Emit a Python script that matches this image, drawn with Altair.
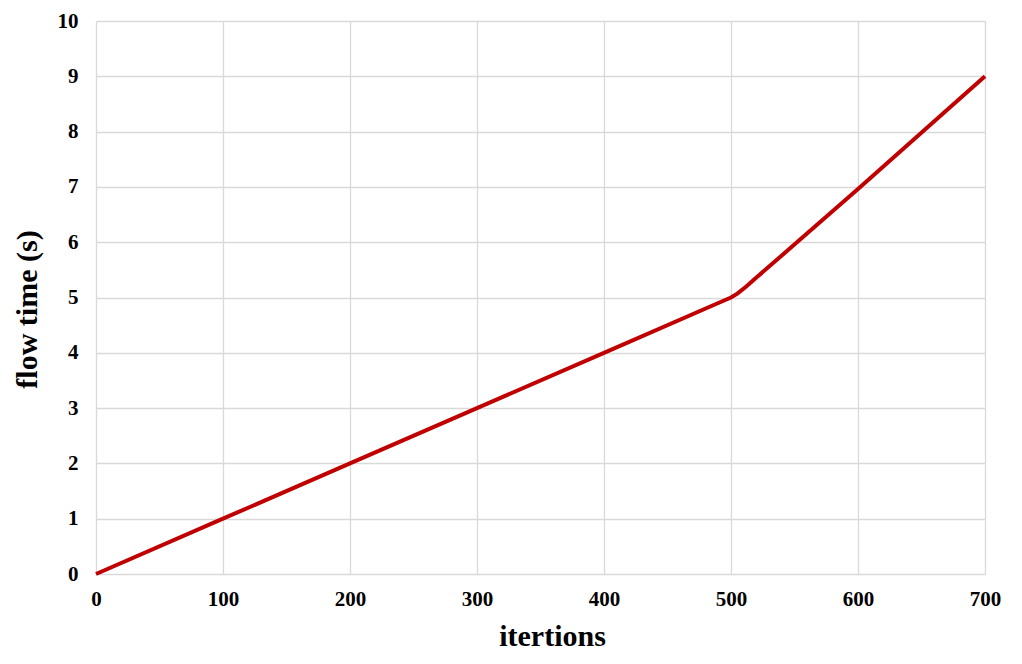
import altair as alt
import pandas as pd

iterations = [0, 100, 200, 300, 400, 490, 500, 505, 512, 520, 600, 700]
flow_time = [0.0, 1.0, 2.0, 3.0, 4.0, 4.9, 5.0, 5.07, 5.2, 5.36, 6.96, 9.0]

df = pd.DataFrame({"itertions": iterations, "flow_time": flow_time})

font = "Liberation Serif"

chart = alt.Chart(df).mark_line(color="#c00000", strokeWidth=4).encode(
    x=alt.X("itertions:Q", title="itertions",
            scale=alt.Scale(domain=[0, 700], nice=False),
            axis=alt.Axis(values=list(range(0, 701, 100)), grid=True, domain=False, ticks=False,
                          labelFlush=False, labelPadding=14, titlePadding=12,
                          titleX=456, titleAlign="center")),
    y=alt.Y("flow_time:Q", title="flow time (s)",
            scale=alt.Scale(domain=[0, 10], nice=False),
            axis=alt.Axis(values=list(range(0, 11)), grid=True, domain=False, ticks=False,
                          labelFlush=False, labelPadding=18, titlePadding=15,
                          titleY=288, titleAlign="center")),
).properties(
    width=889, height=553,
    autosize=alt.AutoSizeParams(type="none"),
    padding={"left": 88, "top": 13, "right": 20, "bottom": 80},
).configure_axis(
    gridColor="#d9d9d9", gridWidth=1.3,
    labelFont=font, labelFontSize=21, labelFontWeight="bold", labelColor="#000000",
    titleFont=font, titleFontSize=30, titleFontWeight="bold", titleColor="#000000",
).configure_view(stroke=None)

chart.save("out.html", embed_options={"renderer": "svg", "actions": False})
